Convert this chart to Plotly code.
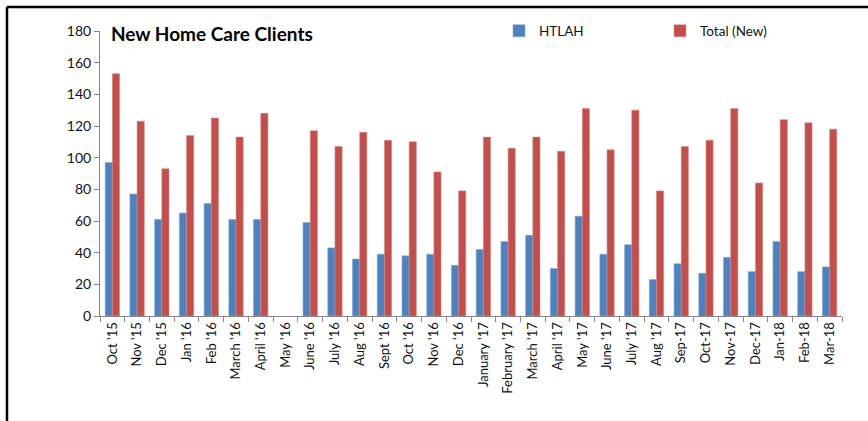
"""New Home Care Clients - clustered bar chart"""

import plotly.graph_objects as go

months = [
    "Oct '15", "Nov '15", "Dec '15", "Jan '16", "Feb '16", "March '16", "April '16",
    "May '16", "June '16", "July '16", "Aug '16", "Sept '16", "Oct '16", "Nov '16",
    "Dec '16", "January '17", "February '17", "March '17", "April '17", "May '17",
    "June '17", "July '17", "Aug '17", "Sep-17", "Oct-17", "Nov-17", "Dec-17",
    "Jan-18", "Feb-18", "Mar-18",
]
htlah = [97, 77, 61, 65, 71, 61, 61, None, 59, 43, 36, 39, 38, 39, 32, 42, 47, 51,
         30, 63, 39, 45, 23, 33, 27, 37, 28, 47, 28, 31]
total_new = [153, 123, 93, 114, 125, 113, 128, None, 117, 107, 116, 111, 110, 91, 79,
             113, 106, 113, 104, 131, 105, 130, 79, 107, 111, 131, 84, 124, 122, 118]
y_ticks = [0, 20, 40, 60, 80, 100, 120, 140, 160, 180]

W, H = 868, 421
L, R, T, B = 100, 26, 31, 105
pw, ph = W - L - R, H - T - B


def px_x(x):
    return (x - L) / pw


def px_y(y):
    return 1 - (y - T) / ph


fig = go.Figure()

# HTLAH
fig.add_trace(
    go.Bar(
        x=months,
        y=htlah,
        name="HTLAH",
        marker={"color": "#4F81BD", "line": {"color": "#7FA3D1", "width": 0.6}},
    )
)

# Total (New)
fig.add_trace(
    go.Bar(
        x=months,
        y=total_new,
        name="Total (New)",
        marker={"color": "#C0504D", "line": {"color": "#D98886", "width": 0.6}},
    )
)

fig.update_layout(
    width=W,
    height=H,
    margin={"l": L, "r": R, "t": T, "b": B, "autoexpand": False},
    paper_bgcolor="white",
    plot_bgcolor="white",
    font={"family": "Lato, Open Sans, sans-serif", "size": 13, "color": "#111111"},
    barmode="group",
    bargap=0.42,
    bargroupgap=0.0,
    showlegend=True,
    legend={
        "orientation": "h",
        "x": px_x(499),
        "y": px_y(31),
        "xanchor": "left",
        "yanchor": "middle",
        "font": {"size": 13.5},
        "entrywidth": 116,
        "bgcolor": "rgba(0,0,0,0)",
        "traceorder": "normal",
    },
    annotations=[
        {
            "text": "<b>New Home Care Clients</b>",
            "xref": "paper",
            "yref": "paper",
            "x": px_x(109),
            "y": px_y(33),
            "xanchor": "left",
            "yanchor": "middle",
            "showarrow": False,
            "font": {"size": 19, "color": "black"},
        }
    ],
    shapes=[
        # outer frame: top and left edges
        {"type": "line", "xref": "paper", "yref": "paper",
         "x0": px_x(7), "x1": px_x(W + 5), "y0": px_y(7), "y1": px_y(7),
         "line": {"color": "black", "width": 2.5}},
        {"type": "line", "xref": "paper", "yref": "paper",
         "x0": px_x(7), "x1": px_x(7), "y0": px_y(7), "y1": px_y(H + 5),
         "line": {"color": "black", "width": 2.5}},
    ],
)

fig.update_xaxes(
    type="category",
    tickangle=-90,
    showline=True,
    linecolor="#868686",
    linewidth=1,
    ticks="outside",
    tickson="boundaries",
    ticklen=5,
    tickcolor="#868686",
    showgrid=False,
    tickfont={"size": 13},
)

fig.update_yaxes(
    range=[0, 180],
    tickvals=y_ticks,
    showline=True,
    linecolor="#868686",
    linewidth=1,
    ticks="outside",
    ticklen=5,
    tickcolor="#868686",
    showgrid=False,
    zeroline=False,
    tickfont={"size": 14},
)

# drop the default 8px page margin so the figure fills the window
fig.write_html(
    "out.html",
    config={"displayModeBar": False},
    post_script="document.body.style.margin = '0';",
)
